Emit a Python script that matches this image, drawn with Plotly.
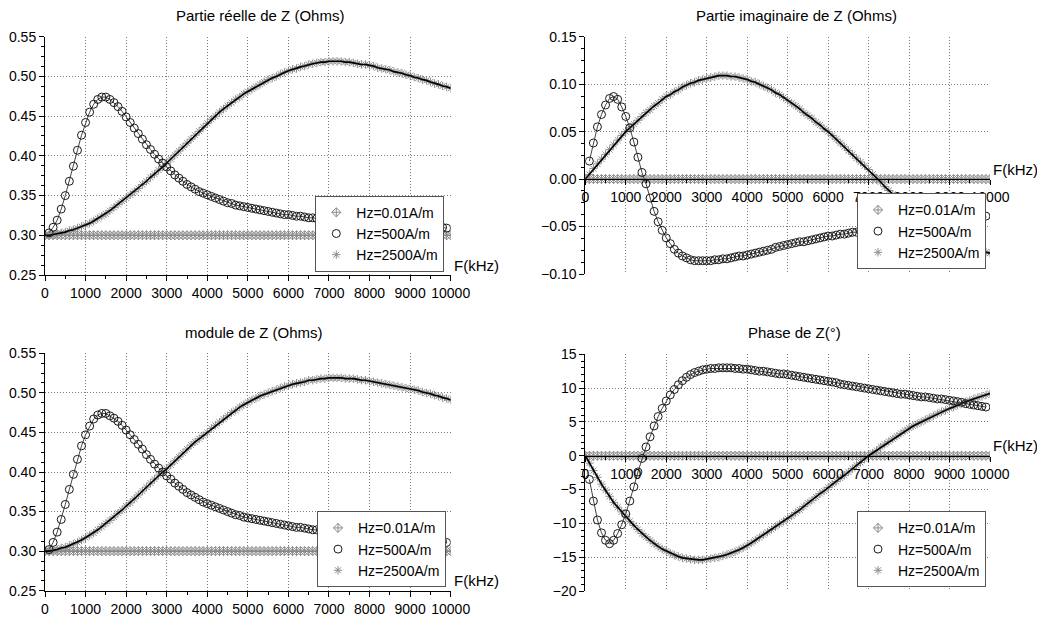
import plotly.graph_objects as go

# ---------------- data ----------------
F_ALL = list(range(0, 10001, 100))      # kHz, Hz=0.01 and Hz=2500 series
F_CIRC = list(range(100, 10000, 100))   # kHz, Hz=500 series

LABELS = ["Hz=0.01A/m", "Hz=500A/m", "Hz=2500A/m"]

# Partie réelle de Z (Ohms)
REAL_001 = [0.300] * len(F_ALL)
REAL_500 = [
    0.303, 0.310, 0.319, 0.333, 0.350, 0.368, 0.387, 0.407, 0.426, 0.442,
    0.455, 0.465, 0.471, 0.474, 0.474, 0.471, 0.467, 0.462, 0.456, 0.449,
    0.442, 0.435, 0.428, 0.421, 0.414, 0.408, 0.402, 0.396, 0.391, 0.386,
    0.381, 0.376, 0.372, 0.368, 0.364, 0.361, 0.358, 0.355, 0.353, 0.351,
    0.349, 0.347, 0.345, 0.343, 0.341, 0.340, 0.338, 0.337, 0.336, 0.335,
    0.334, 0.333, 0.332, 0.331, 0.330, 0.329, 0.328, 0.327, 0.326, 0.326,
    0.325, 0.324, 0.324, 0.323, 0.322, 0.322, 0.321, 0.321, 0.320, 0.320,
    0.319, 0.319, 0.318, 0.318, 0.317, 0.317, 0.316, 0.316, 0.316, 0.315,
    0.315, 0.314, 0.314, 0.314, 0.313, 0.313, 0.313, 0.312, 0.312, 0.312,
    0.311, 0.311, 0.311, 0.311, 0.310, 0.310, 0.310, 0.310, 0.309,
]
REAL_2500 = [
    0.300, 0.300, 0.301, 0.302, 0.303, 0.304, 0.306, 0.307, 0.309, 0.311,
    0.313, 0.315, 0.318, 0.321, 0.324, 0.327, 0.331, 0.335, 0.339, 0.343,
    0.347, 0.351, 0.355, 0.359, 0.364, 0.368, 0.373, 0.377, 0.382, 0.386,
    0.391, 0.396, 0.401, 0.406, 0.411, 0.416, 0.421, 0.426, 0.431, 0.436,
    0.441, 0.446, 0.450, 0.455, 0.459, 0.463, 0.467, 0.471, 0.474, 0.478,
    0.481, 0.484, 0.487, 0.490, 0.493, 0.496, 0.498, 0.500, 0.503, 0.505,
    0.507, 0.509, 0.510, 0.512, 0.513, 0.515, 0.516, 0.517, 0.518, 0.518,
    0.519, 0.519, 0.519, 0.519, 0.518, 0.518, 0.517, 0.516, 0.515, 0.515,
    0.514, 0.513, 0.511, 0.510, 0.509, 0.508, 0.506, 0.505, 0.504, 0.502,
    0.501, 0.499, 0.498, 0.496, 0.495, 0.493, 0.491, 0.490, 0.488, 0.487,
    0.485,
]

# Partie imaginaire de Z (Ohms)
IMAG_001 = [0.000] * len(F_ALL)
IMAG_500 = [
    0.019, 0.038, 0.055, 0.068, 0.078, 0.085, 0.087, 0.084, 0.076, 0.066,
    0.054, 0.039, 0.023, 0.007, -0.005, -0.020, -0.034, -0.045, -0.054, -0.062,
    -0.068, -0.074, -0.078, -0.081, -0.083, -0.085, -0.086, -0.086, -0.086, -0.086,
    -0.086, -0.085, -0.085, -0.084, -0.084, -0.083, -0.082, -0.081, -0.081, -0.080,
    -0.079, -0.078, -0.077, -0.076, -0.075, -0.074, -0.072, -0.071, -0.070, -0.069,
    -0.068, -0.067, -0.066, -0.066, -0.065, -0.064, -0.063, -0.062, -0.061, -0.060,
    -0.060, -0.059, -0.058, -0.058, -0.057, -0.056, -0.056, -0.055, -0.055, -0.054,
    -0.054, -0.053, -0.053, -0.052, -0.052, -0.051, -0.051, -0.050, -0.050, -0.049,
    -0.049, -0.048, -0.048, -0.047, -0.047, -0.046, -0.046, -0.045, -0.045, -0.044,
    -0.044, -0.043, -0.043, -0.042, -0.041, -0.041, -0.040, -0.040, -0.039,
]
IMAG_2500 = [
    0.000, 0.005, 0.011, 0.016, 0.021, 0.026, 0.031, 0.036, 0.041, 0.046,
    0.050, 0.054, 0.058, 0.062, 0.066, 0.070, 0.073, 0.077, 0.080, 0.084,
    0.087, 0.089, 0.092, 0.094, 0.097, 0.099, 0.101, 0.102, 0.104, 0.105,
    0.106, 0.107, 0.108, 0.109, 0.109, 0.109, 0.108, 0.108, 0.107, 0.106,
    0.105, 0.103, 0.102, 0.100, 0.098, 0.096, 0.094, 0.091, 0.089, 0.086,
    0.083, 0.080, 0.077, 0.074, 0.070, 0.067, 0.064, 0.060, 0.057, 0.053,
    0.050, 0.046, 0.042, 0.038, 0.034, 0.030, 0.026, 0.022, 0.018, 0.014,
    0.010, 0.005, 0.001, -0.003, -0.008, -0.012, -0.016, -0.020, -0.025, -0.029,
    -0.033, -0.036, -0.040, -0.043, -0.047, -0.050, -0.052, -0.055, -0.057, -0.059,
    -0.061, -0.063, -0.065, -0.067, -0.069, -0.071, -0.073, -0.074, -0.076, -0.077,
    -0.078,
]

# module de Z (Ohms)
MOD_001 = [0.300] * len(F_ALL)
MOD_500 = [
    0.302, 0.311, 0.324, 0.340, 0.359, 0.378, 0.397, 0.416, 0.433, 0.447,
    0.458, 0.467, 0.472, 0.474, 0.474, 0.471, 0.468, 0.464, 0.459, 0.453,
    0.447, 0.441, 0.435, 0.429, 0.422, 0.416, 0.410, 0.405, 0.400, 0.395,
    0.391, 0.386, 0.382, 0.378, 0.374, 0.371, 0.368, 0.365, 0.362, 0.360,
    0.358, 0.356, 0.354, 0.352, 0.350, 0.348, 0.346, 0.345, 0.343, 0.342,
    0.341, 0.340, 0.339, 0.338, 0.337, 0.336, 0.335, 0.334, 0.333, 0.332,
    0.331, 0.330, 0.330, 0.329, 0.328, 0.327, 0.327, 0.326, 0.325, 0.325,
    0.324, 0.324, 0.323, 0.323, 0.322, 0.322, 0.321, 0.321, 0.320, 0.320,
    0.319, 0.319, 0.318, 0.318, 0.317, 0.317, 0.316, 0.316, 0.315, 0.315,
    0.315, 0.314, 0.314, 0.313, 0.313, 0.313, 0.312, 0.312, 0.311,
]
MOD_2500 = [
    0.300, 0.300, 0.301, 0.302, 0.304, 0.305, 0.307, 0.309, 0.311, 0.314,
    0.317, 0.320, 0.323, 0.327, 0.331, 0.335, 0.339, 0.343, 0.348, 0.352,
    0.357, 0.361, 0.366, 0.371, 0.376, 0.381, 0.386, 0.391, 0.396, 0.400,
    0.404, 0.409, 0.414, 0.419, 0.424, 0.429, 0.434, 0.438, 0.442, 0.446,
    0.450, 0.455, 0.459, 0.463, 0.467, 0.471, 0.475, 0.478, 0.482, 0.485,
    0.488, 0.491, 0.493, 0.496, 0.498, 0.500, 0.502, 0.504, 0.506, 0.508,
    0.509, 0.511, 0.512, 0.513, 0.514, 0.516, 0.516, 0.517, 0.518, 0.518,
    0.519, 0.519, 0.519, 0.519, 0.518, 0.518, 0.518, 0.517, 0.516, 0.516,
    0.515, 0.514, 0.513, 0.512, 0.511, 0.510, 0.509, 0.508, 0.507, 0.506,
    0.505, 0.504, 0.503, 0.501, 0.500, 0.499, 0.497, 0.496, 0.494, 0.493,
    0.491,
]

# Phase de Z (°)
PHASE_001 = [0.0] * len(F_ALL)
PHASE_500 = [
    -3.5, -6.7, -9.5, -11.4, -12.5, -13.0, -12.5, -11.5, -10.2, -8.6,
    -6.7, -4.6, -2.4, -0.4, 1.3, 2.8, 4.4, 5.8, 7.0, 8.1,
    9.0, 9.8, 10.5, 11.1, 11.6, 12.0, 12.3, 12.5, 12.7, 12.8,
    12.9, 12.9, 13.0, 13.0, 13.0, 13.0, 12.9, 12.9, 12.8, 12.8,
    12.7, 12.6, 12.5, 12.5, 12.4, 12.3, 12.2, 12.1, 12.1, 12.0,
    11.9, 11.8, 11.7, 11.6, 11.5, 11.4, 11.3, 11.2, 11.1, 11.0,
    10.9, 10.8, 10.6, 10.5, 10.4, 10.3, 10.2, 10.1, 10.0, 9.9,
    9.8, 9.7, 9.6, 9.5, 9.4, 9.3, 9.2, 9.1, 9.1, 9.0,
    8.9, 8.8, 8.7, 8.7, 8.6, 8.5, 8.4, 8.4, 8.3, 8.2,
    8.1, 8.0, 7.9, 7.7, 7.6, 7.5, 7.4, 7.3, 7.2,
]
PHASE_2500 = [
    0.0, -1.1, -2.2, -3.2, -4.2, -5.1, -6.0, -6.9, -7.6, -8.3,
    -9.0, -9.7, -10.3, -10.9, -11.5, -12.0, -12.5, -13.0, -13.4, -13.8,
    -14.1, -14.4, -14.7, -14.9, -15.1, -15.2, -15.3, -15.4, -15.4, -15.4,
    -15.3, -15.2, -15.1, -15.0, -14.8, -14.6, -14.4, -14.2, -13.9, -13.6,
    -13.3, -12.9, -12.5, -12.1, -11.7, -11.3, -10.9, -10.5, -10.1, -9.7,
    -9.3, -8.9, -8.4, -8.0, -7.5, -7.0, -6.6, -6.1, -5.6, -5.2,
    -4.7, -4.2, -3.8, -3.3, -2.9, -2.4, -1.9, -1.4, -1.0, -0.5,
    0.0, 0.4, 0.8, 1.3, 1.7, 2.1, 2.5, 2.9, 3.3, 3.7,
    4.1, 4.4, 4.7, 5.0, 5.3, 5.6, 5.9, 6.2, 6.5, 6.7,
    7.0, 7.2, 7.5, 7.7, 8.0, 8.2, 8.4, 8.6, 8.8, 9.0,
    9.2,
]

TITLES = ["Partie réelle de Z (Ohms)", "Partie imaginaire de Z (Ohms)",
          "module de Z (Ohms)", "Phase de Z(°)"]
X_LABEL = "F(kHz)"

# ---------------- figure ----------------
W, H = 1037, 617
FONT = "Liberation Sans, Arial, sans-serif"

def px_x(p):
    return p / W

def px_y(p):
    return 1 - p / H

fig = go.Figure()

panels = [
    ("x", "y", "legend", (REAL_001, REAL_500, REAL_2500)),
    ("x2", "y2", "legend2", (IMAG_001, IMAG_500, IMAG_2500)),
    ("x3", "y3", "legend3", (MOD_001, MOD_500, MOD_2500)),
    ("x4", "y4", "legend4", (PHASE_001, PHASE_500, PHASE_2500)),
]

for xa, ya, lg, (s001, s500, s2500) in panels:
    fig.add_trace(go.Scatter(x=F_ALL, y=s001, mode="lines", xaxis=xa, yaxis=ya,
                             line=dict(color="#555555", width=1), showlegend=False,
                             hoverinfo="skip"))
    fig.add_trace(go.Scatter(x=F_ALL, y=s001, mode="markers", xaxis=xa, yaxis=ya,
                             name=LABELS[0], legend=lg, legendgroup=lg + "a", legendrank=1,
                             marker=dict(symbol="diamond-cross-open", size=7,
                                         color="#8a8a8a", line=dict(width=1, color="#8a8a8a"))))
    fig.add_trace(go.Scatter(x=F_ALL, y=s2500, mode="markers", xaxis=xa, yaxis=ya,
                             name=LABELS[2], legend=lg, legendgroup=lg + "c", legendrank=3,
                             marker=dict(symbol="asterisk-open", size=7,
                                         color="#8c8c8c", line=dict(width=1, color="#8c8c8c"))))
    fig.add_trace(go.Scatter(x=F_ALL, y=s2500, mode="lines", xaxis=xa, yaxis=ya,
                             line=dict(color="#000000", width=1.6), showlegend=False,
                             hoverinfo="skip"))
    fig.add_trace(go.Scatter(x=F_CIRC, y=s500, mode="lines", xaxis=xa, yaxis=ya,
                             line=dict(color="#444444", width=1), showlegend=False,
                             hoverinfo="skip"))
    fig.add_trace(go.Scatter(x=F_CIRC, y=s500, mode="markers", xaxis=xa, yaxis=ya,
                             name=LABELS[1], legend=lg, legendgroup=lg + "b", legendrank=2,
                             marker=dict(symbol="circle-open", size=8,
                                         color="#1a1a1a", line=dict(width=1, color="#1a1a1a"))))

XL = [px_x(45), px_x(450.7)]
XR = [px_x(585.3), px_x(990)]
Y_TL = [px_y(275), px_y(36.7)]
Y_TR = [px_y(274), px_y(36.7)]
Y_BL = [px_y(590.7), px_y(353.3)]
Y_BR = [px_y(591), px_y(354.3)]

tickfont = dict(family=FONT, size=14, color="black")
GRID = dict(showgrid=True, gridcolor="#7a7a7a", griddash="1px,2px", gridwidth=1)

def xaxis(domain, anchor, position=None):
    d = dict(domain=domain, range=[0, 10000], tick0=0, dtick=1000, tickformat="d",
             showline=True, linecolor="black", linewidth=1, automargin=False,
             ticks="outside", ticklen=5, tickcolor="black", tickwidth=1,
             zeroline=False, tickfont=tickfont, fixedrange=True,
             minor=dict(dtick=500, tick0=0, ticks="outside", ticklen=3,
                        tickcolor="black", showgrid=False), **GRID)
    d["anchor"] = anchor
    if position is not None:
        d["position"] = position
    return d

def yaxis(domain, anchor, rng, dtick, minor, fmt):
    return dict(domain=domain, anchor=anchor, range=rng, tick0=0, dtick=dtick,
                tickformat=fmt, showline=True, linecolor="black", linewidth=1,
                automargin=False,
                ticks="outside", ticklen=5, tickcolor="black", tickwidth=1,
                zeroline=False, tickfont=tickfont, fixedrange=True,
                minor=dict(dtick=minor, ticks="outside", ticklen=3,
                           tickcolor="black", showgrid=False), **GRID)

def legend(xr, yb):
    return dict(x=xr, y=yb, xanchor="right", yanchor="bottom",
                bgcolor="white", bordercolor="#555555", borderwidth=1,
                font=dict(family=FONT, size=14, color="black"),
                tracegroupgap=6, itemwidth=30, traceorder="normal")

fig.update_layout(
    width=W, height=H,
    margin=dict(l=0, r=0, t=0, b=0, autoexpand=False),
    paper_bgcolor="white", plot_bgcolor="white",
    font=dict(family=FONT, size=14, color="black"),
    xaxis=xaxis(XL, "y"),
    yaxis=yaxis(Y_TL, "x", [0.25, 0.55], 0.05, 0.0125, ".2f"),
    xaxis2=xaxis(XR, "free", position=px_y(179)),
    yaxis2=yaxis(Y_TR, "x2", [-0.10, 0.15], 0.05, 0.0125, ".2f"),
    xaxis3=xaxis(XL, "y3"),
    yaxis3=yaxis(Y_BL, "x3", [0.25, 0.55], 0.05, 0.0125, ".2f"),
    xaxis4=xaxis(XR, "free", position=px_y(455.7)),
    yaxis4=yaxis(Y_BR, "x4", [-20, 15], 5, 1, "d"),
    legend=legend(px_x(444.3), px_y(271.7)),
    legend2=legend(px_x(986), px_y(269.3)),
    legend3=legend(px_x(446), px_y(587.3)),
    legend4=legend(px_x(986), px_y(587.3)),
)

for text, cx, cy in [(TITLES[0], 260, 15), (TITLES[1], 796, 15),
                     (TITLES[2], 254, 332), (TITLES[3], 794, 332)]:
    fig.add_annotation(text=text, x=px_x(cx), y=px_y(cy), xref="paper", yref="paper",
                       xanchor="center", yanchor="middle", showarrow=False,
                       font=dict(family=FONT, size=15, color="black"))

for xa, ya, yv in [("x", "y", 0.25), ("x2", "y2", 0.0), ("x3", "y3", 0.25), ("x4", "y4", 0.0)]:
    fig.add_annotation(text=X_LABEL, x=1, xref=xa + " domain", y=yv, yref=ya,
                       xanchor="left", yanchor="middle", yshift=10, xshift=1,
                       showarrow=False, font=dict(family=FONT, size=15, color="black"))

# the page's default body margin would shift the figure by 8 px; remove it
fig.write_html("out.html",
               config={"displayModeBar": False},
               post_script="document.body.style.margin='0';document.body.style.overflow='hidden';")
